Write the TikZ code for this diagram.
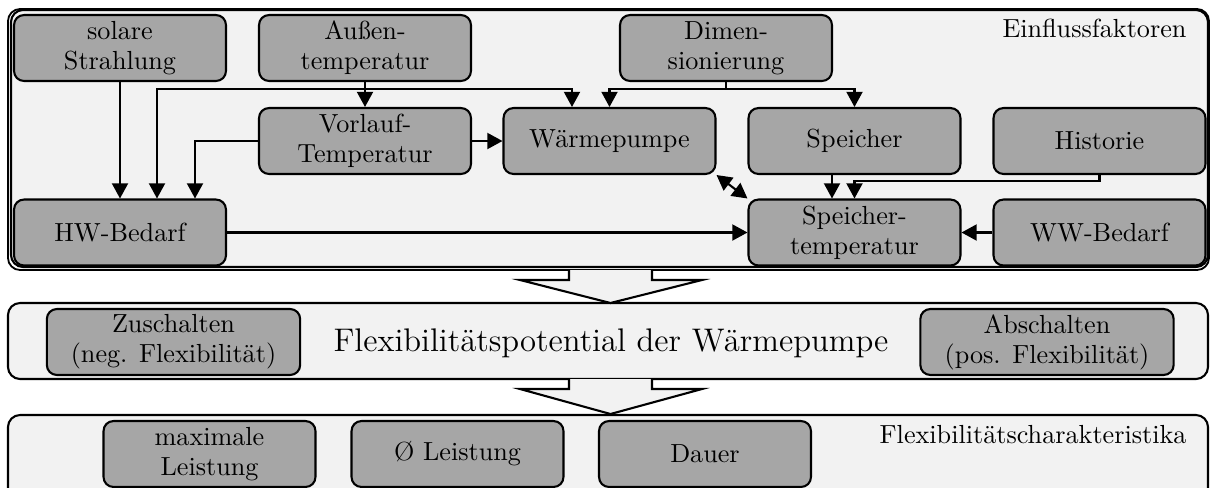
\documentclass[tikz,border=0pt]{standalone}
\usepackage{fontspec}
\usetikzlibrary{arrows.meta,calc}
\definecolor{boxgray}{HTML}{A6A6A6}
\definecolor{panel}{HTML}{F2F2F2}
\begin{document}
\begin{tikzpicture}[x=0.3822pt,y=-0.3822pt,
  box/.style={draw, line width=0.8pt, fill=boxgray, rounded corners=3.8pt,
    minimum width=81pt, minimum height=25.2pt, inner sep=0pt, align=center,
    font=\fontsize{10}{11.5}\selectfont},
  widebox/.style={box, minimum width=96.8pt},
  panelbox/.style={draw, line width=0.8pt, fill=panel, rounded corners=4.6pt},
  tip/.tip={Triangle[length=5.8pt,width=6.1pt]},
  arr/.style={line width=0.8pt, -tip},
  darr/.style={line width=0.8pt, tip-tip},
  bigarrow/.style={draw, line width=0.8pt, fill=panel, line join=miter},
  label/.style={font=\fontsize{10}{12}\selectfont, inner sep=0pt}
]
\useasboundingbox (0,0) rectangle (1211,487);
\clip (0,0) rectangle (1211,487);

% --- panel 1: influencing factors
\draw[line width=0.7pt, fill=white, rounded corners=4.6pt] (8,9) rectangle (1209,270);
\draw[panelbox] (11,10) rectangle (1208,267);
\node[label, anchor=base east] (lblein) at (1187,37) {Einflussfaktoren};

\node[box] (sol)  at (120,48)    {solare\\Strahlung};
\node[box] (aus)  at (365,48)    {Außen-\\temperatur};
\node[box] (dim)  at (726,48)    {Dimen-\\sionierung};
\node[box] (vor)  at (365,141)   {Vorlauf-\\Temperatur};
\node[box] (wp)   at (609.5,141) {Wärmepumpe};
\node[box] (sp)   at (854.5,141) {Speicher};
\node[box] (hist) at (1099.5,141){Historie};
\node[box] (hw)   at (120,232.5) {HW-Bedarf};
\node[box] (st)   at (854.5,232.5) {Speicher-\\temperatur};
\node[box] (ww)   at (1099.5,232.5) {WW-Bedarf};

\draw[arr] (sol.south) -- (hw.north);
\draw[arr] (aus.south) -- (vor.north);
\draw[arr] (aus.south) -- ++(0,7) -| ($(hw.north)+(37,0)$);
\draw[arr] (aus.south) -- ++(0,7) -| ($(wp.north)+(-37.5,0)$);
\draw[arr] (dim.south) -- ++(0,7) -| (wp.north);
\draw[arr] (dim.south) -- ++(0,7) -| (sp.north);
\draw[arr] (vor.west) -| ($(hw.north)+(75,0)$);
\draw[arr] (vor.east) -- (wp.west);
\draw[arr] (hw.east) -- (st.west);
\draw[darr] (wp.south east) -- (st.north west);
\draw[arr] ($(sp.south)+(-22.5,0)$) -- ($(st.north)+(-22.5,0)$);
\draw[arr] (hist.south) -- ++(0,6) -| (st.north);
\draw[arr] (ww.west) -- (st.east);

% --- panel 2: flexibility potential
\draw[panelbox] (8,303) rectangle (1208,379);
\node[font=\fontsize{12.5}{14}\selectfont, anchor=base, inner sep=0pt] (title) at (611,351)
  {Flexibilitätspotential der Wärmepumpe};
\node[widebox] (zu) at (173.5,342) {Zuschalten\\(neg. Flexibilität)};
\node[widebox] (ab) at (1047,342)  {Abschalten\\(pos. Flexibilität)};

% --- panel 3: flexibility characteristics
\draw[panelbox] (8,415) rectangle (1208,500);
\node[label, anchor=base east] (lblchar) at (1187,443) {Flexibilitätscharakteristika};
\node[box] (maxl) at (209.5,454) {maximale\\Leistung};
\node[box] (avgl) at (457.5,454) {Ø Leistung};
\node[box] (dau)  at (705,454)   {Dauer};

% --- block arrows between the panels
\draw[bigarrow] (569,270) -- (569,280) -- (520,280) -- (610.5,303)
  -- (702,280) -- (652,280) -- (652,270);
\draw[bigarrow] (569,379) -- (569,389) -- (520,389) -- (610.5,414)
  -- (702,389) -- (652,389) -- (652,379);
\end{tikzpicture}
\end{document}
